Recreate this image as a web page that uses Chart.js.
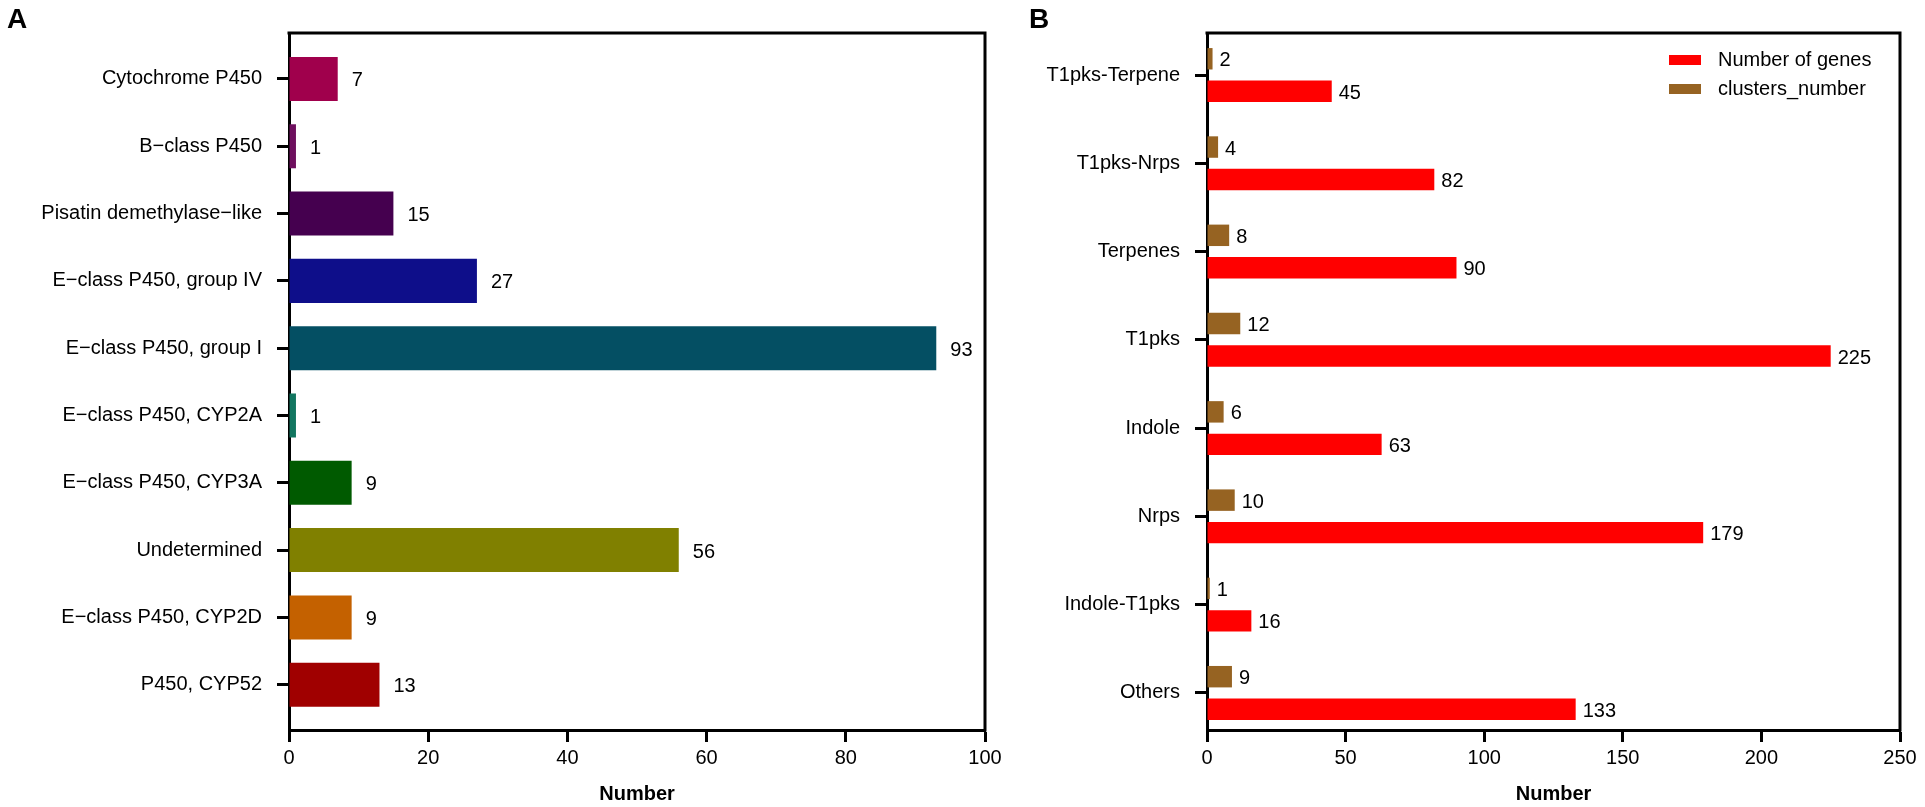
<!DOCTYPE html>
<html><head><meta charset="utf-8">
<script src="https://cdn.jsdelivr.net/npm/chart.js@4.4.1/dist/chart.umd.min.js"></script>
<style>
html,body{margin:0;padding:0;background:#fff;}
body{width:1925px;height:807px;position:relative;overflow:hidden;font-family:'Liberation Sans',Arial,sans-serif;}
#wrapA{position:absolute;left:0;top:0;width:1010px;height:807px;}
#wrapB{position:absolute;left:1000px;top:0;width:925px;height:807px;}
.panel{position:absolute;z-index:5;font-weight:bold;font-size:28px;line-height:28px;color:#000;}
</style></head><body>
<div id="wrapA"><canvas id="chartA"></canvas></div>
<div id="wrapB"><canvas id="chartB"></canvas></div>
<div class="panel" style="left:7px;top:5px">A</div>
<div class="panel" style="left:1029px;top:5px">B</div>
<script>
// ---- Panel A data ----
const p450Categories = ['Cytochrome P450','B\u2212class P450','Pisatin demethylase\u2212like','E\u2212class P450, group IV','E\u2212class P450, group I','E\u2212class P450, CYP2A','E\u2212class P450, CYP3A','Undetermined','E\u2212class P450, CYP2D','P450, CYP52'];
const p450Counts = [7, 1, 15, 27, 93, 1, 9, 56, 9, 13];
const p450Colors = ['#a0004c','#6e0f5e','#45004f','#0e0e8a','#044f63','#127660','#005a00','#808000','#c46100','#a00000'];
const xTicksA = [0, 20, 40, 60, 80, 100];

// ---- Panel B data ----
const clusterTypes = ['T1pks-Terpene','T1pks-Nrps','Terpenes','T1pks','Indole','Nrps','Indole-T1pks','Others'];
const geneCounts = [45, 82, 90, 225, 63, 179, 16, 133];
const clusterCounts = [2, 4, 8, 12, 6, 10, 1, 9];
const xTicksB = [0, 50, 100, 150, 200, 250];

const FONT = "'Liberation Sans', Arial, sans-serif";
Chart.defaults.font.family = FONT;
Chart.defaults.font.size = 20;
Chart.defaults.color = '#000';

const frame = {
  id: 'frame',
  afterDraw(chart) {
    const {ctx, chartArea: a} = chart;
    ctx.save();
    ctx.strokeStyle = '#000'; ctx.lineWidth = 3; ctx.lineCap = 'square';
    ctx.beginPath();
    ctx.moveTo(a.left, a.top); ctx.lineTo(a.right, a.top); ctx.lineTo(a.right, a.bottom);
    ctx.stroke();
    ctx.restore();
  }
};

const valueLabels = {
  id: 'valueLabels',
  afterDatasetsDraw(chart, args, opts) {
    const ctx = chart.ctx;
    ctx.save();
    ctx.font = '20px ' + FONT;
    ctx.fillStyle = '#000'; ctx.textAlign = 'left'; ctx.textBaseline = 'middle';
    chart.data.datasets.forEach((ds, di) => {
      chart.getDatasetMeta(di).data.forEach((el, i) => {
        ctx.fillText(String(ds.data[i].x), el.x + opts.offset, el.y + opts.dy);
      });
    });
    ctx.restore();
  }
};

const boxLegend = {
  id: 'boxLegend',
  afterDraw(chart, args, opts) {
    if (!opts || !opts.display) return;
    const {ctx, chartArea: a} = chart;
    ctx.save();
    ctx.font = '20px ' + FONT; ctx.textAlign = 'left'; ctx.textBaseline = 'middle';
    opts.order.forEach((di, row) => {
      const ds = chart.data.datasets[di];
      const cy = a.top + opts.top + row * opts.rowGap;
      const x = a.right - opts.fromRight;
      ctx.fillStyle = ds.backgroundColor;
      ctx.fillRect(x, cy - opts.boxH / 2, opts.boxW, opts.boxH);
      ctx.fillStyle = '#000';
      ctx.fillText(ds.label, x + opts.textGap, cy);
    });
    ctx.restore();
  }
};

function gridOpts() {
  return { offset: false, drawOnChartArea: false, drawTicks: true, tickLength: 12, tickWidth: 3, tickColor: '#000' };
}
function borderOpts() { return { display: true, width: 3, color: '#000' }; }

new Chart(document.getElementById('chartA'), {
  type: 'bar',
  data: {
    datasets: [{
      data: p450Counts.map((v, i) => ({x: v, y: i})),
      backgroundColor: p450Colors,
      borderWidth: 0,
      categoryPercentage: 1,
      barPercentage: 0.654
    }]
  },
  plugins: [frame, valueLabels],
  options: {
    indexAxis: 'y',
    responsive: true, maintainAspectRatio: false, animation: false,
    layout: { padding: { top: 33, right: 25, left: 0, bottom: 0 } },
    plugins: { legend: { display: false }, tooltip: { enabled: false }, valueLabels: { offset: 14, dy: 2 } },
    scales: {
      x: {
        type: 'linear', min: 0, max: 100, offset: false,
        afterBuildTicks: s => { s.ticks = xTicksA.map(v => ({value: v})); },
        ticks: { padding: 4, color: '#000', font: { size: 20 } },
        grid: gridOpts(), border: borderOpts(),
        title: { display: true, text: 'Number', color: '#000', font: { size: 20, weight: 'bold' }, padding: { top: 0, bottom: 1 } },
        afterFit: s => { s.height = 77; }
      },
      y: {
        type: 'linear', reverse: true, min: -0.683, max: 9.673, offset: false,
        afterBuildTicks: s => { s.ticks = p450Categories.map((_, i) => ({value: i})); },
        ticks: { autoSkip: false, padding: 15, color: '#000', font: { size: 20 }, callback: v => p450Categories[v] ?? '' },
        grid: gridOpts(), border: borderOpts(),
        afterFit: s => { s.width = 289; }
      }
    }
  }
});

new Chart(document.getElementById('chartB'), {
  type: 'bar',
  data: {
    datasets: [
      { label: 'clusters_number', data: clusterCounts.map((v, i) => ({x: v, y: i})), backgroundColor: '#966322', borderWidth: 0, categoryPercentage: 0.736, barPercentage: 0.66 },
      { label: 'Number of genes', data: geneCounts.map((v, i) => ({x: v, y: i})), backgroundColor: '#ff0000', borderWidth: 0, categoryPercentage: 0.736, barPercentage: 0.66 }
    ]
  },
  plugins: [frame, valueLabels, boxLegend],
  options: {
    indexAxis: 'y',
    responsive: true, maintainAspectRatio: false, animation: false,
    layout: { padding: { top: 33, right: 25, left: 0, bottom: 0 } },
    plugins: {
      legend: { display: false }, tooltip: { enabled: false },
      valueLabels: { offset: 7, dy: 2 },
      boxLegend: { display: true, order: [1, 0], top: 27, rowGap: 29, fromRight: 231, boxW: 32, boxH: 10, textGap: 49 }
    },
    scales: {
      x: {
        type: 'linear', min: 0, max: 250, offset: false,
        afterBuildTicks: s => { s.ticks = xTicksB.map(v => ({value: v})); },
        ticks: { padding: 4, color: '#000', font: { size: 20 } },
        grid: gridOpts(), border: borderOpts(),
        title: { display: true, text: 'Number', color: '#000', font: { size: 20, weight: 'bold' }, padding: { top: 0, bottom: 1 } },
        afterFit: s => { s.height = 77; }
      },
      y: {
        type: 'linear', reverse: true, min: -0.476, max: 7.42, offset: false,
        afterBuildTicks: s => { s.ticks = clusterTypes.map((_, i) => ({value: i})); },
        ticks: { autoSkip: false, padding: 15, color: '#000', font: { size: 20 }, callback: v => clusterTypes[v] ?? '' },
        grid: gridOpts(), border: borderOpts(),
        afterFit: s => { s.width = 207; }
      }
    }
  }
});
</script>
</body></html>
